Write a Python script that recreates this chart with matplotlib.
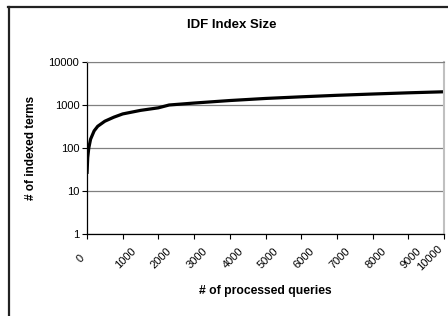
import matplotlib
matplotlib.use('Agg')
import matplotlib.pyplot as plt
import matplotlib.ticker as mtick
from matplotlib.transforms import ScaledTranslation
from matplotlib.lines import Line2D

# values
queries = [0, 20, 50, 100, 200, 300, 500, 750, 1000, 1500, 2000, 2300,
           3000, 4000, 5000, 6000, 7000, 8000, 9000, 10000]
terms = [25, 60, 100, 160, 250, 320, 420, 520, 620, 750, 860, 1000,
         1110, 1270, 1420, 1550, 1680, 1800, 1920, 2030]

x_ticks = list(range(0, 10001, 1000))
y_ticks = [1, 10, 100, 1000, 10000]

plt.rcParams['font.family'] = ['Liberation Sans', 'DejaVu Sans']

W, H = 448, 316
fig = plt.figure(figsize=(W / 100, H / 100), dpi=100)
ax = fig.add_axes([87 / W, 1 - 234 / H, 357 / W, 172 / H])

ax.plot(queries, terms, color='black', linewidth=2.3, solid_capstyle='butt')

ax.set_yscale('log')
ax.set_ylim(1, 10000)
ax.set_xlim(0, 10000)
ax.set_yticks(y_ticks)
ax.yaxis.set_major_formatter(mtick.FuncFormatter(lambda v, p: f'{int(v)}'))
ax.yaxis.set_minor_locator(mtick.NullLocator())
ax.set_xticks(x_ticks)
ax.set_xticklabels([str(t) for t in x_ticks], rotation=45, ha='center', va='center',
                   rotation_mode='anchor')

# gridlines like the old spreadsheet chart
ax.grid(axis='y', color='#808080', linewidth=0.9)
ax.set_axisbelow(True)

ax.spines['left'].set_color('black')
ax.spines['bottom'].set_color('black')
ax.spines['top'].set_color('#808080')
ax.spines['right'].set_color('#c0c0c0')
ax.spines['right'].set_linewidth(1.5)
for s in ['left', 'bottom']:
    ax.spines[s].set_linewidth(0.9)

ax.tick_params(axis='both', direction='out', length=3.6, width=0.8, labelsize=8)
ax.tick_params(axis='y', pad=2)
ax.tick_params(axis='x', pad=14)

# nudge the rotated x labels like the reference, keep last one inside
xlabels = ax.get_xticklabels()
for i, lbl in enumerate(xlabels):
    dx = 3 / 100
    if i == 0:
        dx = -6 / 100
    if i == len(xlabels) - 1:
        dx = -14 / 100
    lbl.set_transform(lbl.get_transform() + ScaledTranslation(dx, 0, fig.dpi_scale_trans))

fig.text(232 / W, 1 - 25 / H, 'IDF Index Size', fontsize=9.5, fontweight='bold',
         ha='center', va='center')
ax.set_xlabel('# of processed queries', fontsize=8.7, fontweight='bold', labelpad=9)
ax.set_ylabel('# of indexed terms', fontsize=8.5, fontweight='bold', labelpad=8)

# outer chart frame (only left and top edges are inside the picture)
fig.add_artist(Line2D([9 / W, 9 / W], [0, 1 - 6.5 / H], color='#222222', linewidth=1.6))
fig.add_artist(Line2D([8 / W, 1], [1 - 6.5 / H, 1 - 6.5 / H], color='#222222', linewidth=1.6))

fig.savefig('out.png', dpi=100)
